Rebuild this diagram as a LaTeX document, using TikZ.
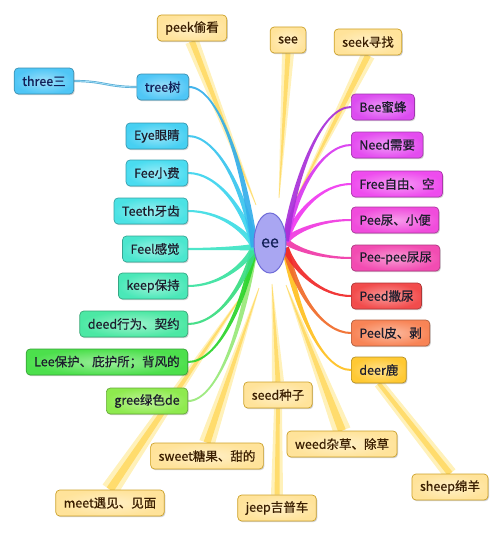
\documentclass[tikz,border=0pt]{standalone}
\usepackage{fontspec}
\setmainfont{Noto Sans CJK SC}[FakeBold=0.6]
\usetikzlibrary{calc,shapes.geometric,shadows,backgrounds}
\definecolor{cTree}{HTML}{4FC6F6}
\definecolor{cEye}{HTML}{47D0F2}
\definecolor{cFee}{HTML}{4ADCF0}
\definecolor{cTeeth}{HTML}{4BE2E4}
\definecolor{cFeel}{HTML}{4BE6CE}
\definecolor{cKeep}{HTML}{4AE8B8}
\definecolor{cDeed}{HTML}{4CE8A4}
\definecolor{cLee}{HTML}{4CE04C}
\definecolor{cGree}{HTML}{8EEA4E}
\definecolor{cBee}{HTML}{DC4CF0}
\definecolor{cNeed}{HTML}{E44CF0}
\definecolor{cFree}{HTML}{EE4CEE}
\definecolor{cPee}{HTML}{F04CDC}
\definecolor{cPeepee}{HTML}{F24CB2}
\definecolor{cPeed}{HTML}{F24C4C}
\definecolor{cPeel}{HTML}{F88456}
\definecolor{cDeer}{HTML}{FFC933}
\definecolor{cYel}{HTML}{FFE39A}
\definecolor{lTree}{HTML}{33AEEA}
\definecolor{lEye}{HTML}{38C4EE}
\definecolor{lFee}{HTML}{3CD4EE}
\definecolor{lTeeth}{HTML}{3EDCE4}
\definecolor{lFeel}{HTML}{3EE4C4}
\definecolor{lKeep}{HTML}{3AE2A0}
\definecolor{lDeed}{HTML}{38DC80}
\definecolor{lLee}{HTML}{2AD42A}
\definecolor{lGree}{HTML}{98E878}
\definecolor{lBee}{HTML}{A830D8}
\definecolor{lNeed}{HTML}{D838F0}
\definecolor{lFree}{HTML}{F038F0}
\definecolor{lPee}{HTML}{F038E0}
\definecolor{lPeepee}{HTML}{F038A8}
\definecolor{lPeed}{HTML}{F02828}
\definecolor{lPeel}{HTML}{F06A28}
\definecolor{lDeer}{HTML}{FFC020}
\definecolor{spokeOut}{HTML}{FFEFB2}
\definecolor{spokeIn}{HTML}{FFD654}
\definecolor{ellFill}{HTML}{A9A6F2}
\definecolor{ellDraw}{HTML}{6F6CD8}
\definecolor{txtDark}{HTML}{1C1C2C}
\definecolor{txtNavy}{HTML}{122058}
\definecolor{txtBrown}{HTML}{3A1E00}
\newcommand\mybranch[4]{%
  \coordinate (bH) at (#1);
  \coordinate (bT) at (#2);
  \coordinate (ba) at ($(bH)!0.15!(bT)$);
  \coordinate (bb) at ($(bH)!0.5!(bT)$);
  \coordinate (bC1) at (ba |- bb);
  \coordinate (bd) at ($(bT)!0.45!(bH)$);
  \coordinate (bC2) at (bd |- bT);
  \fill[#3, opacity=0.92] ($(bH)!#4!90:(bC1)$) .. controls ($(bC1)!2.2pt!90:(bC2)$) and ($(bC2)!1.2pt!90:(bT)$) .. ($(bT)!1pt!-90:(bC2)$)
    -- ($(bT)!1pt!90:(bC2)$) .. controls ($(bC2)!1.2pt!-90:(bT)$) and ($(bC1)!2.2pt!-90:(bC2)$) .. ($(bH)!#4!-90:(bC1)$) -- cycle;
}
\newcommand\myspoke[5]{%
  \fill[#5] ($(#1)!#3!90:(#2)$) -- ($(#2)!#4!-90:(#1)$) -- ($(#2)!#4!90:(#1)$) -- ($(#1)!#3!-90:(#2)$) -- cycle;
}
\tikzset{
  box/.style={rounded corners=4pt, draw=#1!72!black, line width=0.7pt,
    inner color=#1!55!white, outer color=#1,
    minimum height=26pt, inner xsep=8pt, inner ysep=0pt,
    font=\fontsize{12.5}{14}\selectfont, text=txtDark,
    drop shadow={shadow xshift=1pt, shadow yshift=-1.2pt, opacity=0.3, fill=black!60}},
  ybox/.style={box=cYel, draw=cDeer!80!black, text=txtBrown},
  nbox/.style={box=#1, text=txtNavy},
  spo/.style={fill=spokeOut, opacity=0.9},
  spi/.style={fill=spokeIn, opacity=0.75}
}
\begin{document}
\begin{tikzpicture}[x=1pt,y=-1pt]
\useasboundingbox (0,0) rectangle (500,535);
% hub
\node[ellipse, minimum width=32pt, minimum height=60pt, inner sep=0pt, fill=ellFill, draw=ellDraw, line width=1pt, font=\fontsize{16}{18}\selectfont, text=txtNavy] (ee) at (270,243) {ee};
% left column
\node[nbox=cTree] (three) at (44,81) {three三};
\node[nbox=cTree, anchor=east] (tree) at (189,87) {tree树};
\node[box=cEye, anchor=east] (eye) at (188,136) {Eye眼睛};
\node[box=cFee, anchor=east] (fee) at (188,173) {Fee小费};
\node[box=cTeeth, anchor=east] (teeth) at (188,211) {Teeth牙齿};
\node[box=cFeel, anchor=east] (feel) at (188,249) {Feel感觉};
\node[box=cKeep, anchor=east] (keep) at (188,286) {keep保持};
\node[box=cDeed, anchor=east] (deed) at (188,324) {deed行为、契约};
\node[box=cLee, anchor=east] (lee) at (188,362) {Lee保护、庇护所；背风的};
\node[box=cGree, anchor=east] (gree) at (188,401) {gree绿色de};
% right column
\node[box=cBee, anchor=west] (bee) at (351,107) {Bee蜜蜂};
\node[box=cNeed, anchor=west] (need) at (351,145) {Need需要};
\node[box=cFree, anchor=west] (free) at (351,184) {Free自由、空};
\node[box=cPee, anchor=west] (pee) at (351,220) {Pee尿、小便};
\node[box=cPeepee, anchor=west] (peepee) at (351,258) {Pee-pee尿尿};
\node[box=cPeed, anchor=west] (peed) at (351,296) {Peed撒尿};
\node[box=cPeel, anchor=west] (peel) at (351,333) {Peel皮、剥};
\node[box=cDeer, anchor=west] (deer) at (351,370) {deer鹿};
% yellow spokes' boxes
\node[ybox] (peek) at (192,28) {peek偷看};
\node[ybox] (see) at (288,40) {see};
\node[ybox] (seek) at (368,42) {seek寻找};
\node[ybox] (seed) at (278,395) {seed种子};
\node[ybox] (weed) at (342,444) {weed杂草、除草};
\node[ybox] (sweet) at (207,456) {sweet糖果、甜的};
\node[ybox] (sheep) at (450,487) {sheep绵羊};
\node[ybox] (meet) at (110,503) {meet遇见、见面};
\node[ybox] (jeep) at (277,508) {jeep吉普车};
% tip coordinates
\coordinate (tpeek) at (256,205);
\coordinate (tsee) at (279,198);
\coordinate (tseek) at (294,203);
\coordinate (tmeet) at (247,288);
\coordinate (tsweet) at (259,288);
\coordinate (tseed) at (272,284);
\coordinate (tweed) at (286,285);
\coordinate (hubL) at ($(ee.west)+(1,4)$);
\coordinate (hubR) at ($(ee.east)+(-1,-2)$);
\coordinate (hubR2) at ($(ee.east)+(-1,5)$);
\begin{pgfonlayer}{background}
  \foreach \a/\b/\wa/\wb in {peek.south/tpeek/7pt/0.4pt, see.south/tsee/6pt/0.4pt, seek.south/tseek/7pt/0.4pt,
      meet.north/tmeet/9pt/0.4pt, sweet.north/tsweet/8pt/0.4pt, seed.north/tseed/6pt/0.4pt,
      weed.north/tweed/9pt/0.4pt, jeep.north/seed.south/6pt/4pt, sheep.north/deer.south/7pt/5pt}{
    \myspoke{\a}{\b}{\wa}{\wb}{spo}
  }
  \foreach \a/\b/\wa/\wb in {peek.south/tpeek/3pt/0.2pt, see.south/tsee/2.5pt/0.2pt, seek.south/tseek/3pt/0.2pt,
      meet.north/tmeet/4pt/0.2pt, sweet.north/tsweet/3.5pt/0.2pt, seed.north/tseed/2.5pt/0.2pt,
      weed.north/tweed/4pt/0.2pt, jeep.north/seed.south/2.5pt/1.8pt, sheep.north/deer.south/3pt/2pt}{
    \myspoke{\a}{\b}{\wa}{\wb}{spi}
  }
  % three - tree
  \draw[line width=2.2pt, color=lTree!85!black, opacity=0.8] (three.east) .. controls +(30,0) and +(-30,0) .. (tree.west);
  \draw[line width=0.8pt, color=cTree!50!white] (three.east) .. controls +(30,0) and +(-30,0) .. (tree.west);
  % branches
  \mybranch{hubL}{gree.east}{lGree}{3.4pt}
  \mybranch{hubL}{lee.east}{lLee}{3.4pt}
  \mybranch{hubL}{deed.east}{lDeed}{3.4pt}
  \mybranch{hubL}{keep.east}{lKeep}{3.4pt}
  \mybranch{hubL}{feel.east}{lFeel}{3.4pt}
  \mybranch{hubL}{teeth.east}{lTeeth}{3.4pt}
  \mybranch{hubL}{fee.east}{lFee}{3.4pt}
  \mybranch{hubL}{eye.east}{lEye}{3.4pt}
  \mybranch{hubL}{tree.east}{lTree}{3.6pt}
  \mybranch{hubR2}{deer.west}{lDeer}{3.6pt}
  \mybranch{hubR2}{peel.west}{lPeel}{3.4pt}
  \mybranch{hubR2}{peed.west}{lPeed}{3.4pt}
  \mybranch{hubR}{peepee.west}{lPeepee}{3.4pt}
  \mybranch{hubR}{pee.west}{lPee}{3.4pt}
  \mybranch{hubR}{free.west}{lFree}{3.4pt}
  \mybranch{hubR}{need.west}{lNeed}{3.4pt}
  \mybranch{hubR}{bee.west}{lBee}{3.4pt}
\end{pgfonlayer}
\end{tikzpicture}
\end{document}
